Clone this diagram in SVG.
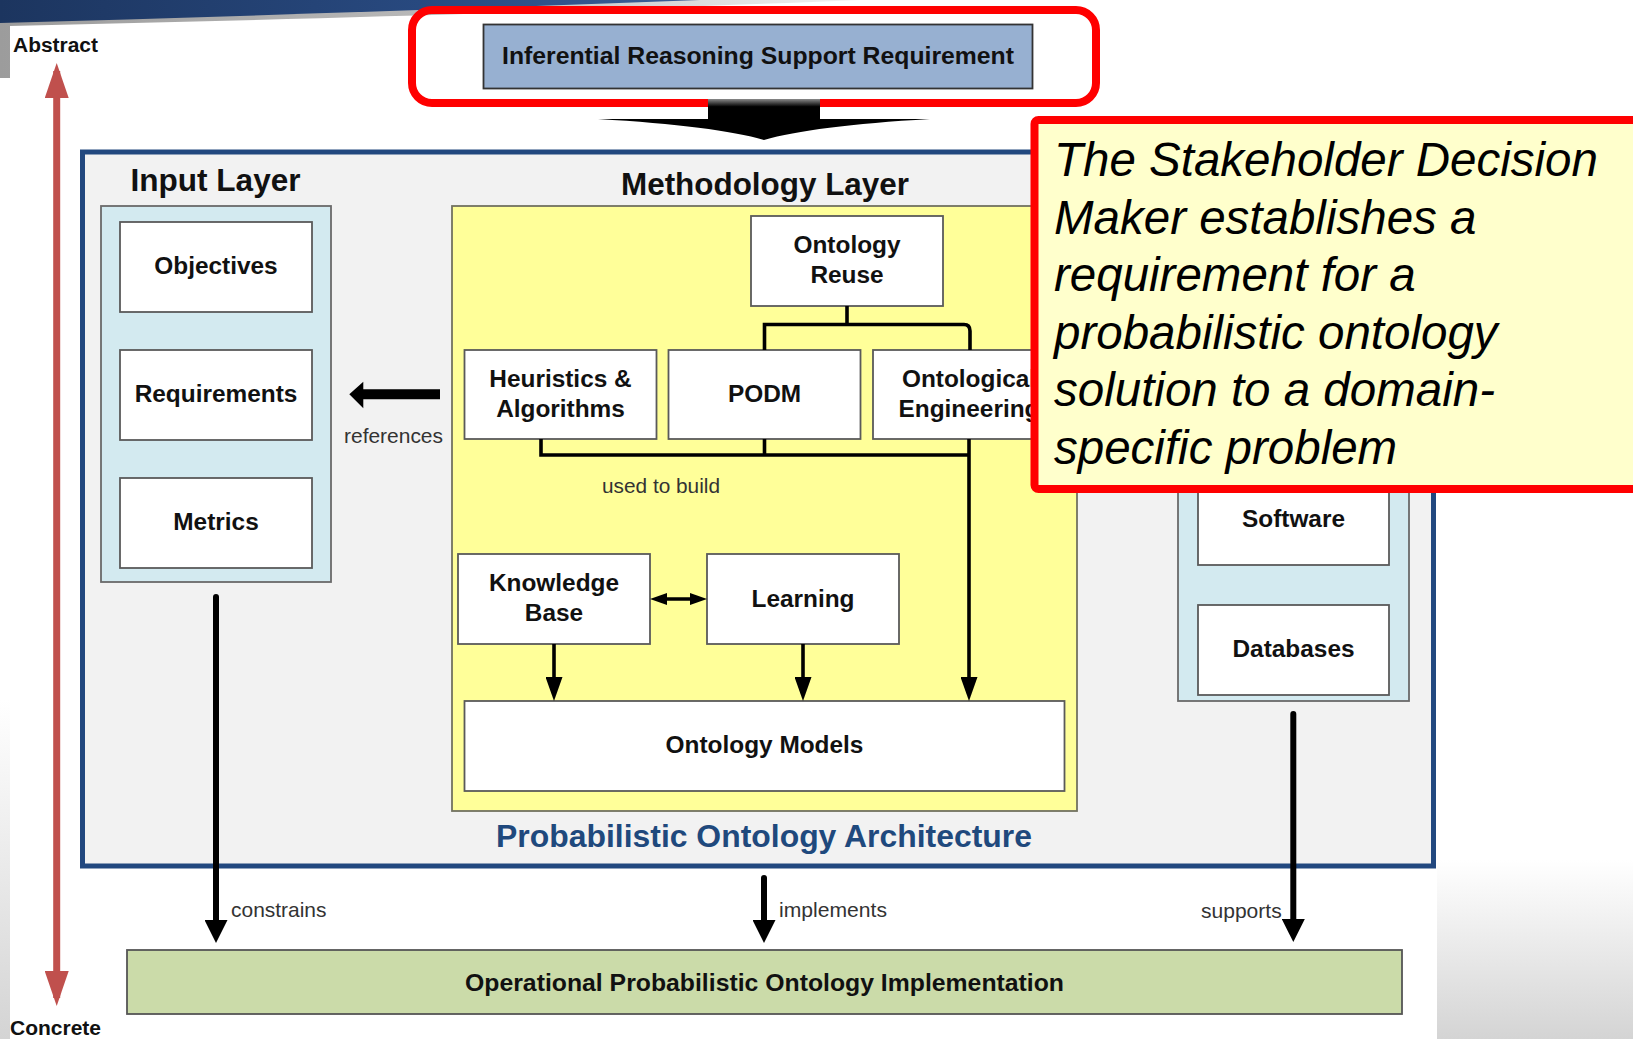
<svg xmlns="http://www.w3.org/2000/svg" width="1633" height="1039" viewBox="0 0 1633 1039">
  <defs>
    <style>
      text { font-family: "Liberation Sans", Arial, Helvetica, sans-serif; }
      .node { fill: #ffffff; stroke: #5a5a5a; stroke-width: 1.8; }
      .panel { fill: #d3eaf0; stroke: #6a6a6a; stroke-width: 1.8; }
      .lbl { font-size: 24.4px; font-weight: bold; fill: #111111; text-anchor: middle; }
      .title { font-size: 31px; font-weight: bold; fill: #111111; }
      .edge { font-size: 21px; fill: #333333; }
      .wire { fill: none; stroke: #000000; stroke-width: 3.6; }
      .thick { fill: none; stroke: #000000; stroke-width: 6; stroke-linecap: round; }
      .callout { font-size: 47.5px; font-style: italic; fill: #000000; }
    </style>
    <linearGradient id="navy" x1="0" y1="0" x2="1" y2="0">
      <stop offset="0" stop-color="#1c355f"/>
      <stop offset="0.6" stop-color="#28497f"/>
      <stop offset="1" stop-color="#3a5f97"/>
    </linearGradient>
    <linearGradient id="swoosh" x1="0" y1="0" x2="1" y2="0">
      <stop offset="0" stop-color="#9c9c9c"/>
      <stop offset="0.5" stop-color="#b8b8b8"/>
      <stop offset="1" stop-color="#f2f2f2"/>
    </linearGradient>
    <linearGradient id="fadeDown" x1="0" y1="0" x2="0" y2="1">
      <stop offset="0" stop-color="#ffffff"/>
      <stop offset="1" stop-color="#d4d4d4"/>
    </linearGradient>
    <linearGradient id="stemTop" x1="0" y1="0" x2="0" y2="1">
      <stop offset="0" stop-color="#8a8a8a"/>
      <stop offset="0.35" stop-color="#000000"/>
      <stop offset="1" stop-color="#000000"/>
    </linearGradient>
    <marker id="headThin" markerUnits="userSpaceOnUse" markerWidth="24" markerHeight="17" refX="16" refY="8.5" orient="auto">
      <path d="M0,0 L24,8.5 L0,17 Z" fill="#000000"/>
    </marker>
    <marker id="headSmall" markerUnits="userSpaceOnUse" markerWidth="17" markerHeight="12" refX="11" refY="6" orient="auto-start-reverse">
      <path d="M0,0 L17,6 L0,12 Z" fill="#000000"/>
    </marker>
    <marker id="headThick" markerUnits="userSpaceOnUse" markerWidth="23" markerHeight="23" refX="13" refY="11.5" orient="auto">
      <path d="M0,0 L23,11.5 L0,23 Z" fill="#000000"/>
    </marker>
    <marker id="headRed" markerUnits="userSpaceOnUse" markerWidth="35" markerHeight="24" refX="27" refY="12" orient="auto-start-reverse">
      <path d="M0,0 L35,12 L0,24 Z" fill="#c0504d"/>
    </marker>
  </defs>

  <!-- page background and slide decoration -->
  <rect x="0" y="0" width="1633" height="1039" fill="#ffffff"/>
  <path d="M0,0 H860 C640,9 330,19 10,26 V78 H0 Z" fill="url(#swoosh)"/>
  <path d="M0,0 H700 C480,8 230,17 0,23 Z" fill="url(#navy)"/>
  <rect x="0" y="700" width="10" height="339" fill="url(#fadeDown)"/>
  <rect x="1437" y="860" width="196" height="179" fill="url(#fadeDown)"/>

  <!-- abstraction axis -->
  <g id="axis">
    <line x1="56.7" y1="71" x2="56.7" y2="998" stroke="#c0504d" stroke-width="7" marker-start="url(#headRed)" marker-end="url(#headRed)"/>
    <text x="13" y="51.5" font-size="20" font-weight="bold" fill="#111" textLength="85" lengthAdjust="spacingAndGlyphs">Abstract</text>
    <text x="10" y="1035" font-size="20.5" font-weight="bold" fill="#111" textLength="91" lengthAdjust="spacingAndGlyphs">Concrete</text>
  </g>

  <!-- architecture frame -->
  <g id="architecture">
    <rect x="82.5" y="152" width="1351" height="714" fill="#f2f2f2" stroke="#22487f" stroke-width="5"/>
    <text x="764" y="847" font-size="31.5" font-weight="bold" fill="#1f497d" text-anchor="middle" textLength="536" lengthAdjust="spacingAndGlyphs">Probabilistic Ontology Architecture</text>
  </g>

  <!-- input layer -->
  <g id="input-layer">
    <text class="title" x="130.5" y="190.5" textLength="170" lengthAdjust="spacingAndGlyphs">Input Layer</text>
    <rect class="panel" x="101" y="206" width="230" height="376"/>
  </g>
  <g id="objectives">
    <rect class="node" x="120" y="222" width="192" height="90"/>
    <text class="lbl" x="216" y="274.3">Objectives</text>
  </g>
  <g id="requirements">
    <rect class="node" x="120" y="350" width="192" height="90"/>
    <text class="lbl" x="216" y="402.3">Requirements</text>
  </g>
  <g id="metrics">
    <rect class="node" x="120" y="478" width="192" height="90"/>
    <text class="lbl" x="216" y="529.8">Metrics</text>
  </g>

  <!-- methodology layer -->
  <g id="methodology-layer">
    <text class="title" x="765" y="195" text-anchor="middle" textLength="288" lengthAdjust="spacingAndGlyphs">Methodology Layer</text>
    <rect x="452" y="206" width="625" height="605" fill="#ffff99" stroke="#727260" stroke-width="1.8"/>
  </g>
  <g id="ontology-reuse">
    <rect class="node" x="751" y="216" width="192" height="90"/>
    <text class="lbl" x="847" y="253">Ontology</text>
    <text class="lbl" x="847" y="283">Reuse</text>
  </g>
  <g id="heuristics">
    <rect class="node" x="464.5" y="350" width="192" height="89"/>
    <text class="lbl" x="560.5" y="386.5">Heuristics &amp;</text>
    <text class="lbl" x="560.5" y="416.5">Algorithms</text>
  </g>
  <g id="podm">
    <rect class="node" x="668.5" y="350" width="192" height="89"/>
    <text class="lbl" x="764.5" y="402">PODM</text>
  </g>
  <g id="ontological-engineering">
    <rect class="node" x="873" y="350" width="192" height="89"/>
    <text class="lbl" x="969" y="386.5">Ontological</text>
    <text class="lbl" x="969" y="416.5">Engineering</text>
  </g>
  <g id="knowledge-base">
    <rect class="node" x="458" y="554" width="192" height="90"/>
    <text class="lbl" x="554" y="590.5">Knowledge</text>
    <text class="lbl" x="554" y="620.5">Base</text>
  </g>
  <g id="learning">
    <rect class="node" x="707" y="554" width="192" height="90"/>
    <text class="lbl" x="803" y="606.7">Learning</text>
  </g>
  <g id="ontology-models">
    <rect class="node" x="464.5" y="701" width="600" height="90"/>
    <text class="lbl" x="764.5" y="753">Ontology Models</text>
  </g>

  <!-- resource layer -->
  <g id="resource-layer">
    <rect class="panel" x="1178" y="206" width="231" height="495"/>
  </g>
  <g id="software">
    <rect class="node" x="1198" y="475" width="191" height="90"/>
    <text class="lbl" x="1293.5" y="527">Software</text>
  </g>
  <g id="databases">
    <rect class="node" x="1198" y="605" width="191" height="90"/>
    <text class="lbl" x="1293.5" y="657.3">Databases</text>
  </g>

  <!-- implementation -->
  <g id="implementation">
    <rect x="127" y="950" width="1275" height="64" fill="#cbdba9" stroke="#555555" stroke-width="1.8"/>
    <text class="lbl" x="764.5" y="990.5" textLength="599" lengthAdjust="spacingAndGlyphs">Operational Probabilistic Ontology Implementation</text>
  </g>

  <!-- requirement -->
  <g id="requirement">
    <rect x="412" y="10" width="684" height="93" rx="20" fill="none" stroke="#ff0000" stroke-width="8"/>
    <rect x="483.5" y="24.5" width="549" height="64" fill="#97b0d1" stroke="#333333" stroke-width="1.8"/>
    <text class="lbl" x="758" y="64" textLength="512" lengthAdjust="spacingAndGlyphs">Inferential Reasoning Support Requirement</text>
  </g>

  <!-- connectors -->
  <g id="connectors">
    <!-- requirement drives the architecture -->
    <rect x="708" y="99" width="112" height="22" fill="url(#stemTop)"/>
    <path d="M598,119 L930,119 Q812,126 764,140 Q716,126 598,119 Z" fill="#000000"/>

    <!-- methodology references input -->
    <path d="M440,389.3 V399.3 H363.3 V408.3 L349.3,394.3 L363.3,381.7 V389.3 Z" fill="#000000"/>
    <text class="edge" x="344" y="442.7" textLength="99" lengthAdjust="spacingAndGlyphs">references</text>

    <!-- reuse tree -->
    <path class="wire" d="M847,306 V324.5"/>
    <path class="wire" d="M764.5,350 V324.5 H964 Q970,324.5 970,331 V350"/>

    <!-- used to build -->
    <path class="wire" d="M541,439 V455 H969"/>
    <path class="wire" d="M764.5,439 V455"/>
    <path class="wire" d="M969,439 V693" marker-end="url(#headThin)"/>
    <text class="edge" x="602" y="492.7" textLength="118" lengthAdjust="spacingAndGlyphs">used to build</text>

    <path class="wire" d="M554,644 V693" marker-end="url(#headThin)"/>
    <path class="wire" d="M803,644 V693" marker-end="url(#headThin)"/>
    <path class="wire" d="M656,599 H701" stroke-width="3" marker-start="url(#headSmall)" marker-end="url(#headSmall)"/>

    <!-- layers to implementation -->
    <path class="thick" d="M216,597 V933" marker-end="url(#headThick)"/>
    <text class="edge" x="231" y="917.3" textLength="95.5" lengthAdjust="spacingAndGlyphs">constrains</text>
    <path class="thick" d="M764,878 V933" marker-end="url(#headThick)"/>
    <text class="edge" x="779" y="917" textLength="108" lengthAdjust="spacingAndGlyphs">implements</text>
    <path class="thick" d="M1293.3,714 V932" marker-end="url(#headThick)"/>
    <text class="edge" x="1201" y="917.5" textLength="80.7" lengthAdjust="spacingAndGlyphs">supports</text>
  </g>

  <!-- stakeholder note -->
  <g id="stakeholder-note">
    <rect x="1034.5" y="120" width="640" height="369" rx="4" fill="#ffffcc" stroke="#ff0000" stroke-width="8"/>
    <text class="callout" x="1054" y="176">The Stakeholder Decision</text>
    <text class="callout" x="1054" y="233.5">Maker establishes a</text>
    <text class="callout" x="1054" y="291">requirement for a</text>
    <text class="callout" x="1054" y="348.5">probabilistic ontology</text>
    <text class="callout" x="1054" y="406">solution to a domain-</text>
    <text class="callout" x="1054" y="463.5">specific problem</text>
  </g>
</svg>
